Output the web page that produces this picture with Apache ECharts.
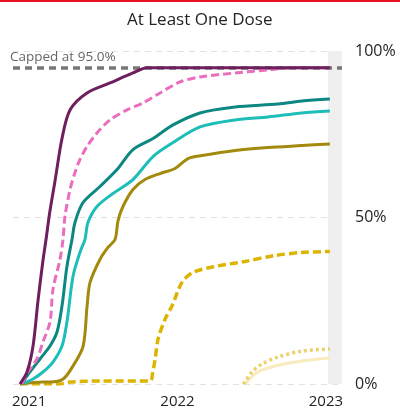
<!DOCTYPE html>
<html>
<head>
<meta charset="utf-8">
<script src="https://cdn.jsdelivr.net/npm/echarts@6/dist/echarts.min.js"></script>
<style>
  html, body { margin: 0; padding: 0; background: #fff; }
  #chart { width: 400px; height: 409px; }
</style>
</head>
<body>
<div id="chart"></div>
<script>
// x values are months since Jan 2021 (0 = 2021, 12 = 2022, 24 = 2023)
var yearTicks = [0, 12, 24];
var yearLabels = ['2021', '2022', '2023'];
var capValue = 95;
var capLabel = 'Capped at 95.0%';
var bandStart = 24.16;

var purpleX = [-0.74, -0.17, 0.32, 0.72, 1.12, 1.37, 1.69, 2.09, 2.66, 3.31, 4.68, 6.54, 8.40, 9.53, 24.32];
var purpleY = [0, 3.6, 11.4, 25, 37, 43.4, 52, 60.8, 73.7, 82.3, 87.4, 90.4, 93.4, 95, 95];

var pinkX = [-0.57, -0.09, 0.64, 1.12, 1.69, 1.93, 2.50, 2.74, 2.90, 3.31, 3.71, 4.11, 4.68, 5.49, 6.54, 7.91, 9.21, 10.58, 12.2, 13.82, 16.65, 19.32, 21.5, 24.32];
var pinkY = [0, 3.6, 7.5, 12.6, 18.6, 28.4, 37.4, 43.4, 50.3, 58.4, 63.5, 67.4, 71.3, 75.4, 79.3, 82.3, 84.4, 87.4, 90.7, 92.2, 93.4, 94.3, 95, 95];

var tealX = [-0.57, -0.17, 0.88, 1.69, 2.26, 2.66, 3.06, 3.47, 3.71, 4.36, 5.73, 7.11, 8.40, 10.02, 11.64, 13.82, 16.65, 20.13, 22.06, 24.32];
var tealY = [0, 2.4, 7.5, 11.4, 15.6, 23.4, 35.3, 43.4, 48.5, 54.5, 59.3, 64.4, 70.4, 73.7, 77.8, 81.4, 83.2, 84.1, 85.0, 85.6];

var cyanX = [-0.57, 0.32, 1.12, 1.93, 2.66, 3.06, 3.55, 4.11, 4.52, 4.76, 5.49, 6.78, 8.40, 10.02, 11.64, 13.82, 16.65, 19.32, 22.06, 24.32];
var cyanY = [0, 1.5, 3.6, 6.6, 11.4, 18.6, 32.3, 39.5, 43.4, 48.5, 53.3, 57.2, 61.4, 68.3, 72.5, 77.2, 79.3, 80.2, 81.4, 82.0];

var oliveX = [-0.74, 1.13, 1.70, 2.75, 3.55, 4.37, 4.69, 4.93, 5.73, 6.38, 6.95, 7.19, 7.59, 8.40, 9.37, 10.58, 11.80, 12.85, 13.98, 16.65, 19.32, 22.06, 24.32];
var oliveY = [0, 0.6, 0.6, 1.5, 5.4, 11.4, 23.4, 30.5, 37.4, 41, 43.4, 49, 53.3, 58.4, 61.4, 63.2, 64.7, 67.7, 68.6, 70.1, 71, 71.6, 72.1];

var goldX = [-0.74, 2.50, 3.31, 5.73, 9.77, 10.0, 10.19, 10.43, 11.0, 11.55, 12.36, 13.25, 15.03, 17.45, 19.88, 22.06, 24.32];
var goldY = [0, 0, 0.6, 0.9, 0.9, 3.6, 7.5, 13.5, 19.5, 23.4, 30.5, 33.5, 35.3, 36.8, 38.6, 39.5, 39.8];

var dottedX = [17.3, 17.45, 18.02, 18.83, 20.12, 22.06, 24.32];
var dottedY = [0, 0.6, 3.6, 6.0, 8.1, 9.9, 10.5];

var paleX = [17.5, 17.6, 18.5, 19.88, 22.06, 24.32];
var paleY = [0, 0.6, 3.6, 5.4, 6.9, 7.8];

function pairs(xs, ys) {
  return xs.map(function (x, i) { return [x, ys[i]]; });
}

function line(name, xs, ys, color, type, width, z) {
  return {
    name: name,
    type: 'line',
    data: pairs(xs, ys),
    smooth: 0.3,
    showSymbol: false,
    z: z,
    lineStyle: { color: color, width: width, type: type }
  };
}

var chart = echarts.init(document.getElementById('chart'));

var option = {
  animation: false,
  textStyle: { fontFamily: 'Open Sans, Noto Sans, sans-serif' },
  title: {
    text: 'At Least One Dose',
    left: 122,
    top: 7,
    textStyle: { fontSize: 17, fontWeight: 'normal', color: '#252423' }
  },
  graphic: [{
    type: 'rect',
    left: 0, top: 0,
    shape: { width: 400, height: 2 },
    style: { fill: '#E81123' }
  }],
  grid: { left: 13, right: 58, top: 51, bottom: 24 },
  xAxis: {
    type: 'value',
    min: -1.3,
    max: 25.3,
    axisLine: { show: false },
    axisTick: { show: false },
    splitLine: { show: false },
    axisLabel: {
      customValues: yearTicks,
      formatter: function (v) { return yearLabels[yearTicks.indexOf(v)]; },
      fontSize: 15,
      color: '#252423',
      margin: 10
    }
  },
  yAxis: {
    type: 'value',
    position: 'right',
    min: 0,
    max: 100,
    interval: 50,
    axisLine: { show: false },
    axisTick: { show: false },
    axisLabel: { formatter: '{value}%', fontSize: 16, color: '#252423', margin: 13 },
    splitLine: { lineStyle: { color: '#E3E3E3', type: [6, 5], width: 1 } }
  },
  series: [
    Object.assign(line('pale', paleX, paleY, '#F8EBBE', 'solid', 3, 2), {
      markArea: {
        silent: true,
        itemStyle: { color: '#EFEFEF' },
        data: [[{ xAxis: bandStart }, { xAxis: 25.3 }]]
      }
    }),
    line('dotted', dottedX, dottedY, '#EBD26E', [3, 3], 3.5, 3),
    line('gold', goldX, goldY, '#DDB400', [8, 4], 3.5, 4),
    line('olive', oliveX, oliveY, '#A38A0C', 'solid', 3, 5),
    line('cyan', cyanX, cyanY, '#1DBDB8', 'solid', 3, 6),
    line('teal', tealX, tealY, '#0D8782', 'solid', 3, 7),
    line('pink', pinkX, pinkY, '#EB6DBD', [8, 4], 3, 8),
    line('purple', purpleX, purpleY, '#6E1F5E', 'solid', 3, 9),
    {
      name: 'cap',
      type: 'line',
      data: [],
      z: 10,
      markLine: {
        silent: true,
        symbol: 'none',
        lineStyle: { color: '#777777', type: [7, 5], width: 3.5 },
        label: {
          show: true,
          position: 'insideStartTop',
          formatter: capLabel,
          color: '#666666',
          fontSize: 13.5,
          distance: [-3, 3]
        },
        data: [{ yAxis: capValue }]
      }
    }
  ]
};

chart.setOption(option);
</script>
</body>
</html>
